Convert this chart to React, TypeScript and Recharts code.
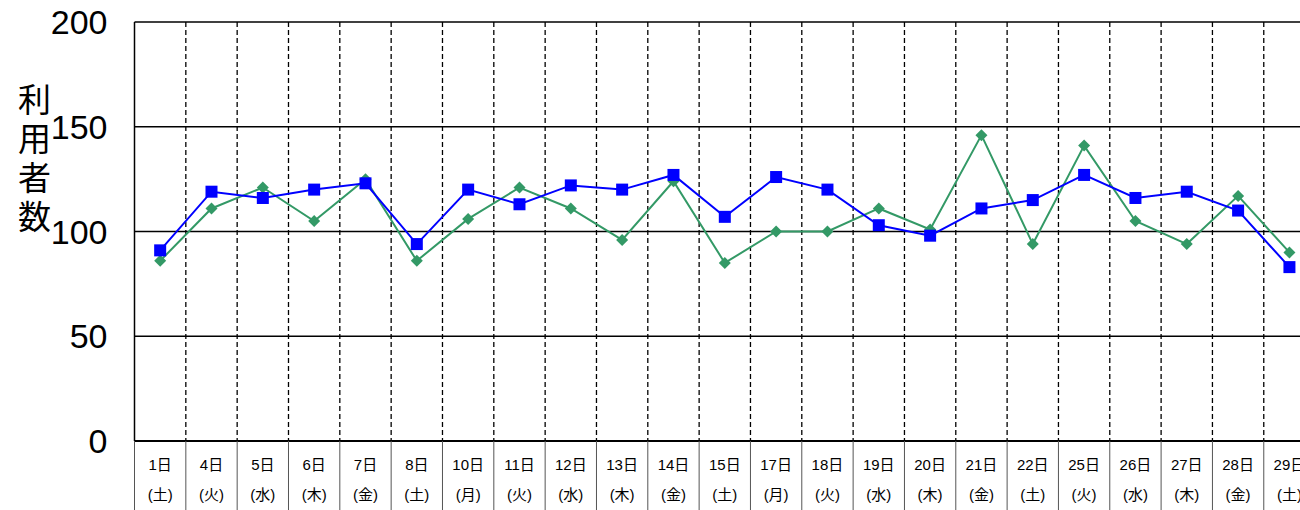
import React from "react";
import { LineChart, Line, XAxis, YAxis, CartesianGrid } from "recharts";

const days = ["1日","4日","5日","6日","7日","8日","10日","11日","12日","13日","14日","15日","17日","18日","19日","20日","21日","22日","25日","26日","27日","28日","29日"];
const weekdays = ["(土)","(火)","(水)","(木)","(金)","(土)","(月)","(火)","(水)","(木)","(金)","(土)","(月)","(火)","(水)","(木)","(金)","(土)","(火)","(水)","(木)","(金)","(土)"];
const blueSeries = [91,119,116,120,123,94,120,113,122,120,127,107,126,120,103,98,111,115,127,116,119,110,83];
const greenSeries = [86,111,121,105,125,86,106,121,111,96,124,85,100,100,111,101,146,94,141,105,94,117,90];
const yTicks = [0, 50, 100, 150, 200];
const yLabelChars = ["利", "用", "者", "数"];

const data = days.map((d, i) => ({ day: d, wd: weekdays[i], blue: blueSeries[i], green: greenSeries[i] }));

const FONT = '"Liberation Sans", Arial, "Noto Sans CJK JP", sans-serif';
const CHART_W = 1320;
const CHART_H = 510;
const Y_AXIS_W = 134.5;
const PLOT_W = 1180.6;
const BAND = PLOT_W / days.length;

const XTick = (props: any) => {
  const { x, y, index } = props;
  const left = x - BAND / 2;
  return (
    <g>
      <line x1={left} y1={y} x2={left} y2={CHART_H} stroke="#555" strokeWidth={1} />
      <text x={x} y={y + 29} textAnchor="middle" fontSize={15} fontFamily={FONT} fill="#000">{days[index]}</text>
      <text x={x} y={y + 59} textAnchor="middle" fontSize={15} fontFamily={FONT} fill="#000">{weekdays[index]}</text>
    </g>
  );
};

const YLabel = (props: any) => {
  return (
    <g>
      {yLabelChars.map((c, i) => (
        <text key={i} x={34.5} y={100 + i * 39} textAnchor="middle" dominantBaseline="central" fontSize={33} fontFamily={FONT} fill="#000">{c}</text>
      ))}
    </g>
  );
};

const Diamond = (props: any) => {
  const { cx, cy, index } = props;
  const r = 6;
  return <path key={`g${index}`} d={`M${cx},${cy - r}L${cx + r},${cy}L${cx},${cy + r}L${cx - r},${cy}Z`} fill="#339966" />;
};

const Square = (props: any) => {
  const { cx, cy, index } = props;
  const s = 12;
  return <rect key={`b${index}`} x={cx - s / 2} y={cy - s / 2} width={s} height={s} fill="#0000FF" />;
};

export default function App() {
  return (
    <div style={{ position: "fixed", left: 0, top: 0, width: 1300, height: 510, overflow: "hidden", background: "#fff" }}>
      <LineChart
        width={CHART_W}
        height={CHART_H}
        data={data}
        margin={{ top: 22, right: CHART_W - Y_AXIS_W - PLOT_W, left: 0, bottom: 0 }}
      >
        <CartesianGrid vertical={false} stroke="#000" strokeWidth={1.5} />
        <CartesianGrid
          horizontal={false}
          stroke="#000"
          strokeWidth={1.3}
          strokeDasharray="5 3"
          verticalCoordinatesGenerator={({ offset }: any) =>
            days.slice(1).map((_, k) => offset.left + ((k + 1) * offset.width) / days.length)
          }
        />
        <XAxis
          dataKey="day"
          height={CHART_H - 441}
          padding={{ left: BAND / 2, right: BAND / 2 }}
          tickLine={false}
          tickSize={0}
          tickMargin={0}
          axisLine={{ stroke: "#000", strokeWidth: 2 }}
          tick={<XTick />}
          interval={0}
        />
        <YAxis
          width={Y_AXIS_W}
          domain={[0, 200]}
          ticks={yTicks}
          interval={0}
          tickLine={false}
          tickSize={0}
          tickMargin={27}
          axisLine={{ stroke: "#000", strokeWidth: 1.5 }}
          tick={{ fontSize: 34, fill: "#000", fontFamily: FONT }}
          label={{ content: <YLabel /> }}
        />
        <Line
          dataKey="green"
          stroke="#339966"
          strokeWidth={2}
          dot={Diamond}
          activeDot={false}
          isAnimationActive={false}
        />
        <Line
          dataKey="blue"
          stroke="#0000FF"
          strokeWidth={2}
          dot={Square}
          activeDot={false}
          isAnimationActive={false}
        />
      </LineChart>
    </div>
  );
}
